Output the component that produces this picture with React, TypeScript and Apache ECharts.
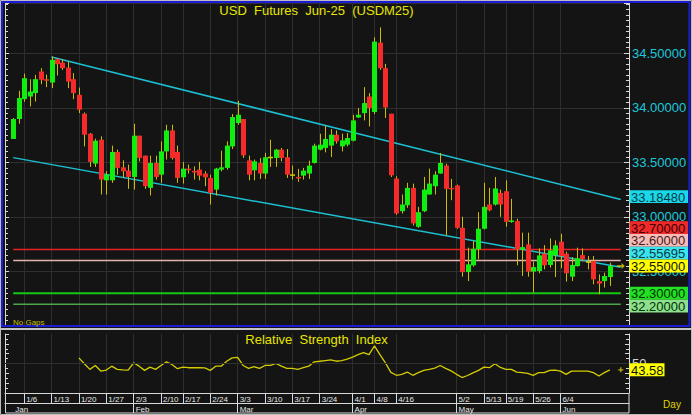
import React, { useEffect, useRef } from "react";
import * as echarts from "echarts";

// ---------------- DATA ----------------
const dates: string[] = [
  "1/2", "1/3",
  "1/6", "1/7", "1/8", "1/9", "1/10",
  "1/13", "1/14", "1/15", "1/16", "1/17",
  "1/20", "1/21", "1/22", "1/23", "1/24",
  "1/27", "1/28", "1/29", "1/30", "1/31",
  "2/3", "2/4", "2/5", "2/6", "2/7",
  "2/10", "2/11", "2/12", "2/13",
  "2/17", "2/18", "2/19", "2/20", "2/21",
  "2/24", "2/25", "2/26", "2/27", "2/28",
  "3/3", "3/4", "3/5", "3/6", "3/7",
  "3/10", "3/11", "3/12", "3/13", "3/14",
  "3/17", "3/18", "3/19", "3/20", "3/21",
  "3/24", "3/25", "3/26", "3/27", "3/28", "3/31",
  "4/1", "4/2", "4/3", "4/4",
  "4/8", "4/9", "4/10", "4/11",
  "4/16", "4/17", "4/18", "4/21", "4/22", "4/23", "4/24", "4/25", "4/28", "4/29", "4/30",
  "5/2", "5/5", "5/6", "5/7", "5/8",
  "5/13", "5/14", "5/15", "5/16",
  "5/19", "5/20", "5/21", "5/22", "5/23",
  "5/26", "5/27", "5/28", "5/29", "5/30",
  "6/4", "6/5", "6/6", "6/9", "6/10", "6/11", "6/12", "6/13", "6/16", "6/17",
];

// [open, close, low, high]
const ohlc: number[][] = [
  [33.714, 33.897, 33.714, 33.906], [33.897, 34.089, 33.854, 34.155], [34.079, 34.271, 34.055, 34.313],
  [34.103, 34.149, 34.012, 34.262], [34.134, 34.262, 34.057, 34.301], [34.332, 34.256, 34.216, 34.363],
  [34.262, 34.247, 34.189, 34.304], [34.231, 34.439, 34.180, 34.469], [34.445, 34.399, 34.295, 34.454],
  [34.414, 34.363, 34.347, 34.445], [34.368, 34.240, 34.180, 34.423], [34.262, 34.134, 34.079, 34.317],
  [34.119, 33.982, 33.951, 34.185], [33.945, 33.753, 33.646, 33.957], [33.762, 33.504, 33.458, 33.769],
  [33.488, 33.698, 33.458, 33.717], [33.707, 33.342, 33.205, 33.738], [33.335, 33.387, 33.205, 33.418],
  [33.335, 33.595, 33.312, 33.653], [33.595, 33.449, 33.387, 33.616], [33.454, 33.418, 33.357, 33.518],
  [33.424, 33.366, 33.257, 33.479], [33.366, 33.744, 33.250, 33.854], [33.744, 33.540, 33.509, 33.744],
  [33.561, 33.281, 33.257, 33.561], [33.266, 33.494, 33.196, 33.561], [33.494, 33.366, 33.342, 33.561],
  [33.387, 33.600, 33.312, 33.692], [33.600, 33.792, 33.525, 33.844], [33.792, 33.540, 33.525, 33.844],
  [33.595, 33.357, 33.312, 33.653], [33.363, 33.442, 33.305, 33.504], [33.442, 33.427, 33.397, 33.479],
  [33.421, 33.408, 33.342, 33.463], [33.433, 33.378, 33.335, 33.504], [33.397, 33.363, 33.281, 33.418],
  [33.357, 33.220, 33.113, 33.387], [33.250, 33.442, 33.196, 33.449], [33.433, 33.454, 33.418, 33.607],
  [33.449, 33.653, 33.433, 33.692], [33.646, 33.915, 33.622, 33.942], [33.860, 33.936, 33.844, 34.064],
  [33.897, 33.564, 33.540, 33.897], [33.518, 33.387, 33.335, 33.561], [33.427, 33.509, 33.335, 33.525],
  [33.494, 33.397, 33.348, 33.540], [33.397, 33.546, 33.348, 33.586], [33.551, 33.551, 33.458, 33.707],
  [33.540, 33.616, 33.458, 33.622], [33.616, 33.540, 33.509, 33.632], [33.546, 33.387, 33.357, 33.622],
  [33.390, 33.390, 33.342, 33.470], [33.366, 33.354, 33.321, 33.440], [33.378, 33.424, 33.342, 33.449],
  [33.397, 33.470, 33.348, 33.515], [33.494, 33.653, 33.488, 33.671], [33.616, 33.662, 33.610, 33.762],
  [33.632, 33.714, 33.591, 33.835], [33.653, 33.753, 33.549, 33.805], [33.753, 33.692, 33.671, 33.792],
  [33.646, 33.701, 33.600, 33.762], [33.662, 33.723, 33.646, 33.769], [33.698, 33.884, 33.692, 33.936],
  [33.911, 33.936, 33.906, 33.997], [33.951, 34.043, 33.884, 34.189], [34.103, 33.997, 33.829, 34.134],
  [33.961, 34.606, 33.942, 34.646], [34.597, 34.363, 34.347, 34.737], [34.363, 34.003, 33.906, 34.402],
  [33.945, 33.381, 33.366, 33.945], [33.351, 33.031, 33.020, 33.372], [33.052, 33.113, 33.031, 33.205],
  [33.107, 33.266, 33.083, 33.312], [33.266, 32.940, 32.921, 33.305], [32.909, 33.043, 32.900, 33.092],
  [33.052, 33.250, 33.043, 33.366], [33.205, 33.305, 33.205, 33.442], [33.281, 33.387, 33.205, 33.418],
  [33.397, 33.494, 33.397, 33.586], [33.470, 33.257, 32.830, 33.488], [33.266, 33.257, 33.153, 33.348],
  [33.287, 32.900, 32.891, 33.296], [32.900, 32.494, 32.452, 33.001], [32.494, 32.565, 32.412, 32.718],
  [32.556, 32.708, 32.544, 32.778], [32.702, 32.891, 32.611, 33.043], [32.891, 33.092, 32.885, 33.312],
  [33.113, 33.061, 33.052, 33.266], [33.113, 33.260, 33.104, 33.366], [33.220, 33.113, 33.001, 33.250],
  [33.235, 32.955, 32.909, 33.335], [32.955, 32.967, 32.946, 33.165], [32.961, 32.702, 32.556, 32.983],
  [32.702, 32.723, 32.458, 32.855], [32.748, 32.498, 32.452, 32.855], [32.498, 32.540, 32.306, 32.590],
  [32.504, 32.647, 32.483, 32.711], [32.663, 32.556, 32.519, 32.741], [32.559, 32.693, 32.535, 32.803],
  [32.650, 32.739, 32.449, 32.784], [32.772, 32.641, 32.528, 32.845], [32.663, 32.483, 32.407, 32.681],
  [32.452, 32.559, 32.412, 32.632], [32.549, 32.620, 32.544, 32.718], [32.650, 32.611, 32.595, 32.711],
  [32.593, 32.593, 32.519, 32.641], [32.595, 32.428, 32.382, 32.641], [32.412, 32.388, 32.291, 32.473],
  [32.412, 32.458, 32.352, 32.489], [32.449, 32.550, 32.367, 32.580],
];

const rsi: (number | null)[] = [
  null, null, null, null, null, null, null, null, null, null, null, null,
  55.7, 49.8, 44, 48, 42.3, 43.3, 47.3, 44, 43.6, 43.3,
  50.7, 47.3, 43, 46.3, 44, 48, 51.7, 49, 44.7, 46.3,
  45.7, 45.7, 45.7, 45.5, 43, 47.3, 47.3, 52.3, 55.7, 56.3,
  48, 45, 46.7, 45, 48, 48, 50, 47.3, 45, 45,
  44, 45.7, 47.3, 51.7, 52.3, 53, 53.7, 52.3, 53, 54.5,
  56.5, 59, 61, 59, 68, 59, 50.7, 41, 38, 39,
  41.3, 38, 40.7, 43, 44, 45.3, 48, 45, 42.5, 39,
  35.7, 37.8, 40.5, 43, 46.3, 45.7, 49.7, 46, 44, 44,
  41.3, 40.8, 40, 38, 40.7, 40.7, 43, 43.3, 42.3, 39,
  42.3, 42.3, 42.3, 42.3, 40.7, 37.3, 40.7, 43.58,
];

const weekLabels = ["1/6", "1/13", "1/20", "1/27", "2/3", "2/10", "2/17", "2/24", "3/3", "3/10",
  "3/17", "3/24", "4/1", "4/8", "4/16", "5/2", "5/13", "5/19", "5/26", "6/4"];
const monthNames = ["Jan", "Feb", "Mar", "Apr", "May", "Jun"];

// trend lines: [candle index, price] anchors
const upperTrend = [[7, 34.466], [109, 33.1848]];
const lowerTrend = [[0, 33.543], [109, 32.55695]];
const levels = [32.7, 32.6, 32.3, 32.2];
const lastPrice = 32.55;
const rsiLast = 43.58;

// ---------------- STYLE ----------------
const levelColors = ["#e42222", "#e6b2ac", "#14c814", "#4aa84a"];
const levelWidths = [1.5, 1.5, 2, 1.5];
const levelTagBg = ["#f02a2a", "#f4bcb8", "#22e022", "#8ee08e"];
const levelTagFg = ["#3a0000", "#4a1818", "#003000", "#003000"];
const FONT = '"Liberation Sans", Arial, sans-serif';
const NARROW = '"Liberation Sans Narrow", "Liberation Sans", Arial, sans-serif';
const BG = "#141414";
const GRID = "#2f2f2f";
const AXIS = "#d8d8d8";
const YELLOW = "#e6e600";

const LEAD = 1;
const xCats = [" ", ...dates, "  ", "   ", "    "];
const ax = (i: number) => i + LEAD;
const endIdx = dates.length + 1;
const trendAt = (t: number[][], i: number) =>
  t[0][1] + ((t[1][1] - t[0][1]) * (i - t[0][0])) / (t[1][0] - t[0][0]);
const isWeek = (_i: number, v: string) => weekLabels.indexOf(v) >= 0;
const monthOf = (v: string) => parseInt(v.split("/")[0], 10);
const isDate = (v: string | undefined) => !!v && v.indexOf("/") >= 0;
const monthStart = (i: number) => {
  const v = xCats[i];
  if (!isDate(v)) return false;
  const p = xCats[i - 1];
  return !isDate(p) || monthOf(p) !== monthOf(v);
};

export default function App() {
  const ref = useRef<HTMLDivElement>(null);
  useEffect(() => {
    document.body.style.margin = "0";
    const chart = echarts.init(ref.current!, undefined, { renderer: "svg" });

    const lineSeries = (data: number[][], color: string, width: number) => ({
      type: "line",
      xAxisIndex: 0,
      yAxisIndex: 0,
      data,
      symbol: "none",
      silent: true,
      lineStyle: { color, width },
      z: 3,
    });

    const option: any = {
      animation: false,
      backgroundColor: BG,
      grid: [
        { left: 5, top: 3, width: 624, height: 323 },
        { left: 5, top: 334, width: 624, height: 59 },
      ],
      xAxis: [
        {
          gridIndex: 0, type: "category", data: xCats, boundaryGap: true,
          axisLine: { show: false }, axisTick: { show: false }, axisLabel: { show: false },
          splitLine: { show: true, interval: isWeek, alignWithLabel: true, lineStyle: { color: GRID, width: 1 } },
        },
        {
          gridIndex: 1, type: "category", data: xCats, boundaryGap: true, position: "bottom",
          axisLine: { show: true, lineStyle: { color: AXIS, width: 1 } },
          axisTick: { show: true, alignWithLabel: true, interval: isWeek, length: 10, lineStyle: { color: AXIS } },
          axisLabel: {
            interval: isWeek, align: "left", margin: 2, color: "#e8e8e8", fontSize: 8,
            fontFamily: NARROW, padding: [0, 0, 0, 2],
          },
          splitLine: { show: true, interval: isWeek, alignWithLabel: true, lineStyle: { color: GRID, width: 1 } },
        },
        {
          gridIndex: 1, type: "category", data: xCats, boundaryGap: true, position: "bottom", offset: 10,
          axisLine: { show: true, lineStyle: { color: AXIS, width: 1 } },
          axisTick: {
            show: true, alignWithLabel: true, length: 10, lineStyle: { color: AXIS },
            interval: (i: number) => monthStart(i) && i !== LEAD,
          },
          axisLabel: {
            interval: (i: number) => monthStart(i), align: "left", margin: 2, color: "#e8e8e8",
            fontSize: 8, fontFamily: NARROW, padding: [0, 0, 0, 2],
            formatter: (v: string) => (isDate(v) ? monthNames[monthOf(v) - 1] : ""),
          },
          splitLine: { show: false },
        },
      ],
      yAxis: [
        {
          gridIndex: 0, type: "value", position: "right", min: 32.0, max: 34.96, interval: 0.5,
          axisLine: { show: true, lineStyle: { color: AXIS } },
          axisTick: { show: true, inside: true, length: 5, lineStyle: { color: AXIS } },
          minorTick: { show: true, splitNumber: 10, length: 3, lineStyle: { color: AXIS } },
          axisLabel: {
            color: "#1cc8dc", fontSize: 13, fontFamily: FONT, margin: 3,
            formatter: (v: number) =>
              Math.abs(v * 2 - Math.round(v * 2)) < 1e-6 && v > 32.01 ? v.toFixed(5) : "",
          },
          splitLine: { show: true, lineStyle: { color: GRID } },
        },
        {
          gridIndex: 0, type: "value", position: "left", min: 32.0, max: 34.96, interval: 0.5,
          axisLine: { show: true, lineStyle: { color: AXIS } },
          axisTick: { show: true, inside: true, length: 4, lineStyle: { color: AXIS } },
          minorTick: { show: true, splitNumber: 10, length: 3, lineStyle: { color: AXIS } },
          axisLabel: { show: false },
          splitLine: { show: false },
        },
        {
          gridIndex: 1, type: "value", position: "right", min: 20, max: 80, interval: 10,
          axisLine: { show: true, lineStyle: { color: AXIS } },
          axisTick: { show: true, inside: true, length: 4, lineStyle: { color: AXIS } },
          minorTick: { show: true, splitNumber: 2, length: 3, lineStyle: { color: AXIS } },
          axisLabel: {
            color: "#d0d0d0", fontSize: 13, fontFamily: FONT, margin: 3,
            formatter: (v: number) => (Math.abs(v - 50) < 1e-6 ? "50" : ""),
          },
          splitLine: { show: false },
        },
        {
          gridIndex: 1, type: "value", position: "left", min: 20, max: 80, interval: 10,
          axisLine: { show: true, lineStyle: { color: AXIS } },
          axisTick: { show: true, inside: true, length: 4, lineStyle: { color: AXIS } },
          minorTick: { show: true, splitNumber: 2, length: 3, lineStyle: { color: AXIS } },
          axisLabel: { show: false },
          splitLine: { show: false },
        },
      ],
      series: [
        ...levels.map((v, k) => lineSeries([[ax(0), v], [ax(endIdx), v]], levelColors[k], levelWidths[k])),
        lineSeries(
          [[ax(upperTrend[0][0]), upperTrend[0][1]], [ax(endIdx), trendAt(upperTrend, endIdx)]],
          "#1cc0d2", 1.5
        ),
        lineSeries(
          [[ax(lowerTrend[0][0]), lowerTrend[0][1]], [ax(endIdx), trendAt(lowerTrend, endIdx)]],
          "#1cc0d2", 1.5
        ),
        {
          type: "custom",
          xAxisIndex: 0,
          yAxisIndex: 0,
          z: 4,
          silent: true,
          data: ohlc.map((d, i) => [ax(i), d[0], d[1], d[2], d[3]]),
          encode: { x: 0, y: [1, 2, 3, 4] },
          renderItem: (_p: any, api: any) => {
            const idx = api.value(0);
            const o = api.value(1), c = api.value(2), l = api.value(3), h = api.value(4);
            const po = api.coord([idx, o]);
            const pc = api.coord([idx, c]);
            const pl = api.coord([idx, l]);
            const ph = api.coord([idx, h]);
            const x = Math.round(po[0]) + 0.5;
            const top = Math.min(po[1], pc[1]);
            const hh = Math.max(1.5, Math.abs(po[1] - pc[1]));
            const fill = c > o ? "#10ee10" : c < o ? "#f52a2a" : "#d8c800";
            return {
              type: "group",
              children: [
                { type: "line", shape: { x1: x, y1: ph[1], x2: x, y2: pl[1] }, style: { stroke: "#cdbc00", lineWidth: 1 } },
                { type: "rect", shape: { x: x - 2.5, y: top, width: 5, height: hh }, style: { fill } },
              ],
            };
          },
        },
        {
          type: "scatter", xAxisIndex: 0, yAxisIndex: 0, silent: true, z: 5,
          data: [[ax(endIdx), lastPrice]],
          symbol: "path://M0,3H6V0L10,4L6,8V5H0Z", symbolSize: [8, 6],
          itemStyle: { color: "#e8d800" },
        },
        {
          type: "line", xAxisIndex: 1, yAxisIndex: 2, silent: true,
          data: [null, ...rsi],
          symbol: "none",
          lineStyle: { color: "#d4cc00", width: 1.3 },
          markLine: {
            silent: true, symbol: "none", label: { show: false },
            lineStyle: { color: GRID, type: "solid", width: 1 },
            data: [{ yAxis: 50 }],
          },
        },
        {
          type: "scatter", xAxisIndex: 1, yAxisIndex: 2, silent: true, z: 5,
          data: [[ax(endIdx), rsiLast]],
          symbol: "path://M3,0H5V3H8V5H5V8H3V5H0V3H3Z", symbolSize: 5,
          itemStyle: { color: "#e8d800" },
        },
      ],
    };
    chart.setOption(option);

    // right-side value tags, stacked like the reference
    const H = 12.8;
    const tags: any[] = [
      { value: upperTrend[1][1], bg: "#19d8ea", fg: "#063a44" },
      ...levels.map((v, k) => ({ value: v, bg: levelTagBg[k], fg: levelTagFg[k] })),
      { value: lowerTrend[1][1], bg: "#3ae4ee", fg: "#063a44" },
      { value: lastPrice, bg: "#ffff00", fg: "#111111", anchor: true },
    ].map((t) => ({ ...t, y: chart.convertToPixel({ yAxisIndex: 0 } as any, t.value) as number }));
    tags.sort((a, b) => a.y - b.y);
    const ai = tags.findIndex((t) => t.anchor);
    for (let k = ai - 1; k >= 0; k--) tags[k].y = Math.min(tags[k].y, tags[k + 1].y - H);
    for (let k = ai + 1; k < tags.length; k++) tags[k].y = Math.max(tags[k].y, tags[k - 1].y + H);

    const txt = (x: number, y: number, text: string, size: number, fill: string, align = "left", family = FONT, lh?: number) => ({
      type: "text", z: 100, silent: true,
      style: {
        x, y, text, fill, font: `${size}px ${family}`,
        align, textAlign: align, verticalAlign: "middle", textVerticalAlign: "middle",
        ...(lh ? { lineHeight: lh } : {}),
      },
    });

    const rsiY = chart.convertToPixel({ yAxisIndex: 2 } as any, rsiLast) as number;

    const elements: any[] = [
      // frames
      { type: "rect", z: 90, silent: true, shape: { x: 0.5, y: 0.5, width: 691, height: 414 }, style: { fill: "none", stroke: "#bdbdbd", lineWidth: 1 } },
      { type: "rect", z: 90, silent: true, shape: { x: 2, y: 2, width: 687.5, height: 324 }, style: { fill: "none", stroke: "#1c1cd6", lineWidth: 2 } },
      { type: "rect", z: 90, silent: true, shape: { x: 0, y: 328, width: 692, height: 2 }, style: { fill: "#c4c4c4" } },
      { type: "rect", z: 90, silent: true, shape: { x: 5.5, y: 393.5, width: 623.5, height: 19.5 }, style: { fill: "none", stroke: AXIS, lineWidth: 1 } },
      // titles
      txt(316.5, 10.5, "USD  Futures  Jun-25  (USDM25)", 13, YELLOW, "center"),
      txt(316.5, 339.5, "Relative  Strength  Index", 13, YELLOW, "center"),
      txt(13, 322.5, "No Gaps", 8, "#c8c000", "left"),
      txt(672, 404, "Day", 10, "#e0d400", "center", NARROW),
    ];
    tags.forEach((t) => {
      elements.push({
        type: "rect", z: 100, silent: true,
        shape: { x: 629.5, y: t.y - H / 2, width: 58.5, height: H },
        style: { fill: t.bg },
      });
      elements.push(txt(631, t.y + 0.5, t.value.toFixed(5), 13, t.fg, "left", FONT, 12));
    });
    elements.push({
      type: "rect", z: 100, silent: true,
      shape: { x: 629.5, y: rsiY - 6.5, width: 35, height: 13 },
      style: { fill: "#ffff00" },
    });
    elements.push(txt(631, rsiY + 0.5, rsiLast.toFixed(2), 13, "#111111", "left", FONT, 12));

    chart.setOption({ graphic: { elements } });

    return () => chart.dispose();
  }, []);

  return (
    <div
      ref={ref}
      style={{ position: "fixed", left: 0, top: 0, width: 692, height: 415, background: BG }}
    />
  );
}
